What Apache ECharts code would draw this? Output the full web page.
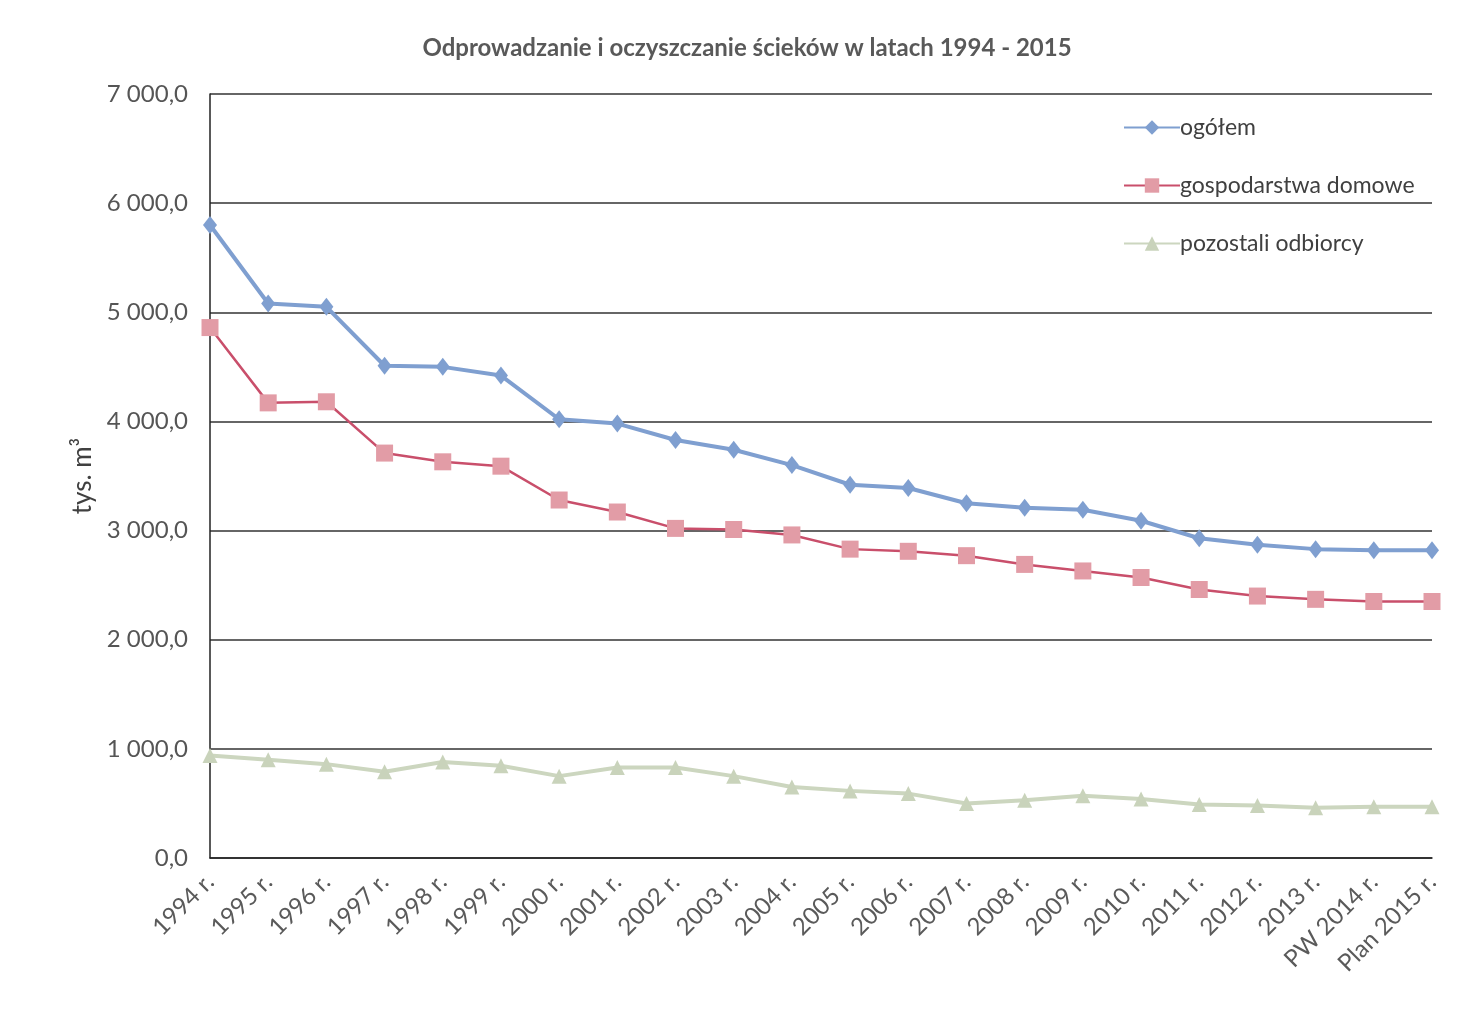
<!DOCTYPE html>
<html>
<head>
<meta charset="utf-8">
<script src="https://cdn.jsdelivr.net/npm/echarts@6/dist/echarts.min.js"></script>
<style>
html,body{margin:0;padding:0;background:#fff;}
#chart{width:1468px;height:1010px;}
</style>
</head>
<body>
<div id="chart"></div>
<script>
const categories = ['1994 r.','1995 r.','1996 r.','1997 r.','1998 r.','1999 r.','2000 r.','2001 r.','2002 r.','2003 r.','2004 r.','2005 r.','2006 r.','2007 r.','2008 r.','2009 r.','2010 r.','2011 r.','2012 r.','2013 r.','PW 2014 r.','Plan 2015 r.'];
const ogolem = [5800,5080,5050,4510,4500,4420,4020,3980,3830,3740,3600,3420,3390,3250,3210,3190,3090,2930,2870,2830,2820,2820];
const gospodarstwa = [4860,4170,4180,3710,3630,3590,3280,3170,3020,3010,2960,2830,2810,2770,2690,2630,2570,2460,2400,2370,2350,2350];
const pozostali = [940,900,860,790,880,845,750,830,830,750,650,615,590,500,530,570,540,490,480,460,470,470];
const seriesNames = ['ogółem','gospodarstwa domowe','pozostali odbiorcy'];
const yTicks = {min:0, max:7000, interval:1000};

const font = 'Lato, "Open Sans", sans-serif';
const chart = echarts.init(document.getElementById('chart'));
function fmt(v){
  const s = Math.round(v).toString().replace(/\B(?=(\d{3})+(?!\d))/g,' ');
  return s + ',0';
}
chart.setOption({
  backgroundColor:'#fff',
  animation:false,
  title:{
    text:'Odprowadzanie i oczyszczanie ścieków w latach 1994 - 2015',
    left:742, top:31, textAlign:'center',
    textStyle:{fontFamily:font, fontSize:24, fontWeight:'bold', color:'#595959'}
  },
  legend:{
    orient:'vertical', left:1118, top:111, itemGap:35,
    itemWidth:56, itemHeight:18,
    textStyle:{fontFamily:font, fontSize:23, color:'#404040', padding:[0,0,0,-5]},
    data:seriesNames
  },
  grid:{left:210, right:36, top:94, bottom:152},
  xAxis:{
    type:'category', data:categories, boundaryGap:false,
    axisLine:{show:true, lineStyle:{color:'#222', width:1.5}},
    axisTick:{show:false},
    axisLabel:{rotate:45, fontFamily:font, fontSize:24, color:'#5a5a5a', margin:20, interval:0}
  },
  yAxis:{
    type:'value', min:yTicks.min, max:yTicks.max, interval:yTicks.interval,
    name:'tys. m³', nameLocation:'middle', nameGap:112, nameRotate:90,
    nameTextStyle:{fontFamily:font, fontSize:26, color:'#404040'},
    axisLine:{show:true, lineStyle:{color:'#222', width:1.5}},
    axisTick:{show:false},
    splitLine:{lineStyle:{color:'#333', width:1.5}},
    axisLabel:{formatter:fmt, fontFamily:font, fontSize:24, color:'#555', margin:22}
  },
  series:[
    {name:seriesNames[0], type:'line', data:ogolem, symbol:'diamond', symbolSize:[14,18],
     lineStyle:{color:'#7f9fd0', width:4}, itemStyle:{color:'#7f9fd0'}},
    {name:seriesNames[1], type:'line', data:gospodarstwa, symbol:'rect', symbolSize:17,
     lineStyle:{color:'#c94f6b', width:2.5}, itemStyle:{color:'#e29ca6'}},
    {name:seriesNames[2], type:'line', data:pozostali, symbol:'triangle', symbolSize:15,
     lineStyle:{color:'#ccd6bf', width:4}, itemStyle:{color:'#c9d3bb'}}
  ]
});
</script>
</body>
</html>
